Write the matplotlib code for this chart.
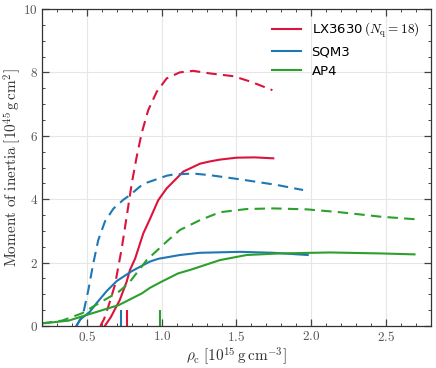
import matplotlib
matplotlib.use('Agg')
import matplotlib.pyplot as plt
from matplotlib.ticker import MultipleLocator, FuncFormatter

plt.rcParams['mathtext.fontset'] = 'cm'

# LX3630 (N_q = 18)
lx_solid_x = [0.62, 0.66, 0.72, 0.766, 0.788, 0.822, 0.877, 0.922, 0.977, 1.033, 1.144, 1.256, 1.32, 1.39, 1.50, 1.62, 1.746]
lx_solid_y = [0.0, 0.28, 0.82, 1.40, 1.77, 2.12, 2.92, 3.38, 3.97, 4.34, 4.87, 5.12, 5.19, 5.25, 5.31, 5.32, 5.29]
lx_dash_x = [0.59, 0.615, 0.643, 0.688, 0.733, 0.766, 0.80, 0.833, 0.866, 0.91, 0.967, 1.033, 1.12, 1.21, 1.32, 1.48, 1.60, 1.74]
lx_dash_y = [0.0, 0.22, 0.61, 1.30, 2.45, 3.45, 4.50, 5.34, 6.08, 6.81, 7.39, 7.81, 8.00, 8.05, 7.97, 7.88, 7.70, 7.44]

# SQM3
sqm_solid_x = [0.43, 0.454, 0.52, 0.57, 0.632, 0.70, 0.80, 0.92, 0.977, 1.122, 1.256, 1.345, 1.524, 1.746, 1.976]
sqm_solid_y = [0.0, 0.20, 0.45, 0.75, 1.10, 1.42, 1.73, 2.03, 2.12, 2.24, 2.31, 2.32, 2.34, 2.31, 2.24]
sqm_dash_x = [0.43, 0.454, 0.476, 0.51, 0.543, 0.576, 0.621, 0.677, 0.743, 0.788, 0.855, 0.90, 1.033, 1.078, 1.167, 1.211, 1.32, 1.52, 1.77, 1.945]
sqm_dash_y = [0.0, 0.19, 0.40, 1.14, 1.98, 2.71, 3.30, 3.70, 3.98, 4.13, 4.40, 4.52, 4.74, 4.78, 4.80, 4.81, 4.76, 4.63, 4.45, 4.29]

# AP4
ap4_solid_x = [0.2, 0.378, 0.534, 0.713, 0.868, 0.92, 1.0, 1.11, 1.19, 1.39, 1.568, 1.79, 2.125, 2.46, 2.69]
ap4_solid_y = [0.08, 0.17, 0.40, 0.66, 1.03, 1.20, 1.40, 1.66, 1.77, 2.08, 2.24, 2.29, 2.32, 2.29, 2.26]
ap4_dash_x = [0.2, 0.334, 0.467, 0.58, 0.713, 0.78, 0.90, 1.044, 1.122, 1.256, 1.39, 1.568, 1.746, 1.97, 2.19, 2.46, 2.69]
ap4_dash_y = [0.085, 0.17, 0.40, 0.72, 1.08, 1.35, 2.08, 2.71, 3.03, 3.34, 3.59, 3.69, 3.71, 3.68, 3.59, 3.45, 3.37]

# short markers on the x axis (SQM3, LX3630, AP4)
marker_x = [0.728, 0.770, 0.989]
marker_h = 0.5

labels = [r'LX3630$\,(N_\mathrm{q}=18)$', 'SQM3', 'AP4']
colors = ['#dc143c', '#1f77b4', '#2ca02c']

fig = plt.figure(figsize=(4.36, 3.68), dpi=100)
ax = fig.add_axes([0.0963, 0.1141, 0.8922, 0.8614])

series = [
    (lx_solid_x, lx_solid_y, lx_dash_x, lx_dash_y),
    (sqm_solid_x, sqm_solid_y, sqm_dash_x, sqm_dash_y),
    (ap4_solid_x, ap4_solid_y, ap4_dash_x, ap4_dash_y),
]
for (sx, sy, dx, dy), lab, c in zip(series, labels, colors):
    ax.plot(sx, sy, color=c, lw=1.5, label=lab)
    ax.plot(dx, dy, color=c, lw=1.5, ls=(0, (5, 3)))

for mx, c in zip(marker_x, [colors[1], colors[0], colors[2]]):
    ax.vlines(mx, 0, marker_h, color=c, lw=1.5)

ax.set_xlim(0.2, 2.8)
ax.set_ylim(0, 10)
ax.xaxis.set_major_locator(MultipleLocator(0.5))
ax.xaxis.set_minor_locator(MultipleLocator(0.1))
ax.yaxis.set_major_locator(MultipleLocator(2))
ax.yaxis.set_minor_locator(MultipleLocator(0.5))
ax.xaxis.set_major_formatter(FuncFormatter(lambda v, p: f'${v:.1f}$'))
ax.yaxis.set_major_formatter(FuncFormatter(lambda v, p: f'${v:.0f}$'))

ax.tick_params(which='both', direction='in', top=True, right=True,
               labelsize=9.5, labelcolor='#555555', color='#444444')
ax.tick_params(which='major', length=5, width=0.9, pad=3)
ax.tick_params(which='minor', length=2.5, width=0.7)
for sp in ax.spines.values():
    sp.set_color('#333333')
    sp.set_linewidth(0.9)

ax.grid(which='major', color='#e6e6e6', lw=0.8)
ax.set_axisbelow(True)

ax.set_xlabel(r'$\rho_\mathrm{c}\;[10^{15}\,\mathrm{g\,cm^{-3}}]$', fontsize=11,
              color='#333333', labelpad=1)
ax.set_ylabel(r'$\mathrm{Moment\ of\ inertia}\;[10^{45}\,\mathrm{g\,cm^{2}}]$', fontsize=11,
              color='#333333', labelpad=0)

ax.legend(loc='upper right', frameon=False, fontsize=9.5, handlelength=2.2,
          labelspacing=0.45)

fig.savefig('out.png', dpi=100)
